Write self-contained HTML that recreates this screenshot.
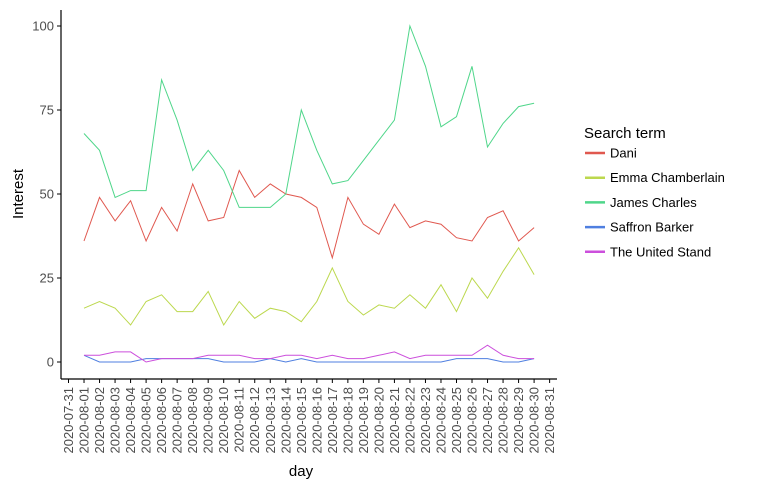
<!DOCTYPE html>
<html><head><meta charset="utf-8"><style>
body{margin:0;background:#fff;font-family:"Liberation Sans",sans-serif}
</style></head><body>
<svg id="chart" width="758" height="488" xmlns="http://www.w3.org/2000/svg" font-family="Liberation Sans, sans-serif">
<g id="axes"></g><g id="series"></g><g id="legend"></g>
</svg>
<script>
const dates = ["2020-07-31","2020-08-01","2020-08-02","2020-08-03","2020-08-04","2020-08-05","2020-08-06","2020-08-07","2020-08-08","2020-08-09","2020-08-10","2020-08-11","2020-08-12","2020-08-13","2020-08-14","2020-08-15","2020-08-16","2020-08-17","2020-08-18","2020-08-19","2020-08-20","2020-08-21","2020-08-22","2020-08-23","2020-08-24","2020-08-25","2020-08-26","2020-08-27","2020-08-28","2020-08-29","2020-08-30","2020-08-31"];
const seriesNames = ["Dani","Emma Chamberlain","James Charles","Saffron Barker","The United Stand"];
const seriesColors = ["#e0584f","#bcd84e","#4fd68a","#4f7fe0","#cc4fdc"];
const dani = [36,49,42,48,36,46,39,53,42,43,57,49,53,50,49,46,31,49,41,38,47,40,42,41,37,36,43,45,36,40];
const emma = [16,18,16,11,18,20,15,15,21,11,18,13,16,15,12,18,28,18,14,17,16,20,16,23,15,25,19,27,34,26];
const james = [68,63,49,51,51,84,72,57,63,57,46,46,46,50,75,63,53,54,60,66,72,100,88,70,73,88,64,71,76,77];
const saffron = [2,0,0,0,1,1,1,1,1,0,0,0,1,0,1,0,0,0,0,0,0,0,0,0,1,1,1,0,0,1];
const united = [2,2,3,3,0,1,1,1,2,2,2,1,1,2,2,1,2,1,1,2,3,1,2,2,2,2,5,2,1,1];
const yTicks = [0,25,50,75,100];

const NS="http://www.w3.org/2000/svg";
const x = i => 68.5 + i*15.52;
const y = v => 362 - v*3.36;
function mk(tag, attrs, parent, text){const e=document.createElementNS(NS,tag);for(const k in attrs)e.setAttribute(k,attrs[k]);if(text!==undefined)e.textContent=text;parent.appendChild(e);return e;}
const axes=document.getElementById('axes'), ser=document.getElementById('series'), leg=document.getElementById('legend');

const yl=mk('line',{x1:61,y1:10,x2:61,y2:379,stroke:'#000','stroke-width':1.2},axes);


const xl=mk('line',{x1:61,y1:379,x2:557,y2:379,stroke:'#000','stroke-width':1.2},axes);



yTicks.forEach(t=>{
  mk('line',{x1:57,y1:y(t),x2:61,y2:y(t),stroke:'#000'},axes);
  const tx=mk('text',{x:54,y:y(t)+4.5,'text-anchor':'end','font-size':13,fill:'#4d4d4d'},axes,String(t));
  
  
});
dates.forEach((d,i)=>{
  mk('line',{x1:x(i),y1:379,x2:x(i),y2:383,stroke:'#000'},axes);
  const tx=mk('text',{x:0,y:0,'text-anchor':'end','font-size':13,fill:'#4d4d4d',transform:`translate(${x(i)+4.5},387) rotate(-90)`},axes,d);
  
  
});
const xt=mk('text',{x:301,y:476,'text-anchor':'middle','font-size':15,fill:'#000'},axes,'day');


const yt=mk('text',{x:0,y:0,'text-anchor':'middle','font-size':15,fill:'#000',transform:'translate(23,194) rotate(-90)'},axes,'Interest');



const data=[dani,emma,james,saffron,united];
data.forEach((arr,s)=>{
  const pts=arr.map((v,i)=>x(i+1).toFixed(1)+','+y(v).toFixed(1)).join(' ');
  const pl=mk('polyline',{points:pts,fill:'none',stroke:seriesColors[s],'stroke-width':1},ser);
  
  
});

const lt=mk('text',{x:584,y:138,'font-size':15,fill:'#000'},leg,'Search term');


seriesNames.forEach((n,s)=>{
  const yy=153+s*24.7;
  const g=mk('g',{},leg);
  
  
  mk('line',{x1:585,y1:yy,x2:605,y2:yy,stroke:seriesColors[s],'stroke-width':2.5},g);
  mk('text',{x:610,y:yy+4.5,'font-size':13,fill:'#000'},g,n);
});
</script>
</body></html>
